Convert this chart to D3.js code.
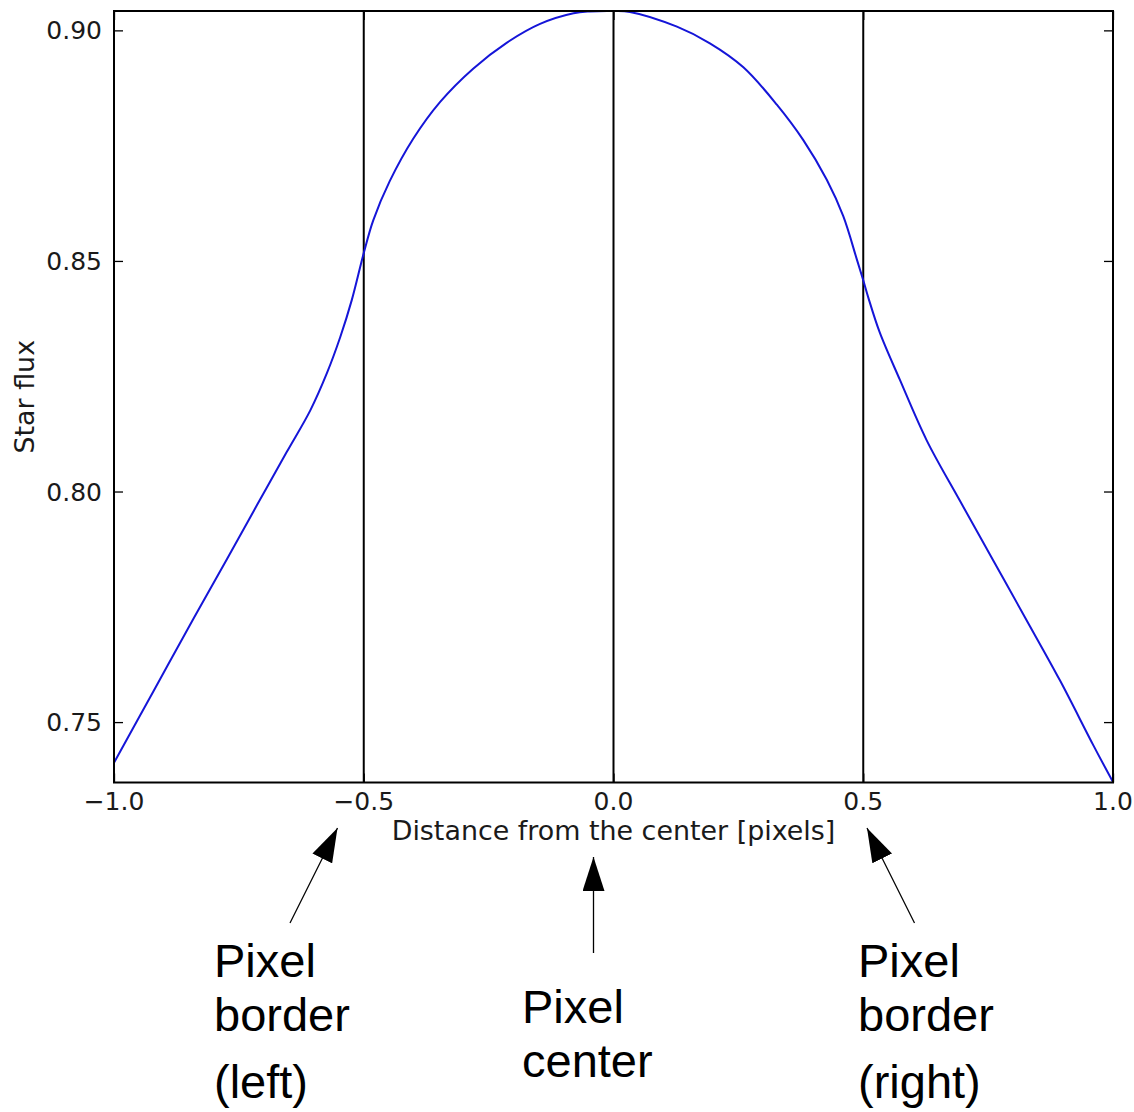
<!DOCTYPE html>
<html>
<head>
<meta charset="utf-8">
<script src="https://cdn.jsdelivr.net/npm/d3@7"></script>
<style>
  html, body { margin: 0; padding: 0; background: #fff; }
  svg { display: block; }
  .tick-label, .axis-title { font-family: "DejaVu Sans", sans-serif; fill: #1a1a1a; }
  .note { font-family: "Liberation Sans", Arial, sans-serif; fill: #000; }
</style>
</head>
<body>
<svg id="chart" width="1134" height="1112"></svg>
<script>
// Star flux as a function of the star's offset from the pixel center
const distance = [-1.0, -0.921, -0.841, -0.774, -0.714, -0.654, -0.607, -0.574, -0.547, -0.524,
  -0.500, -0.481, -0.448, -0.401, -0.347, -0.281, -0.214, -0.147, -0.080, -0.047, 0.0,
  0.033, 0.127, 0.193, 0.260, 0.327, 0.380, 0.427, 0.460, 0.487, 0.500, 0.510, 0.533,
  0.573, 0.627, 0.693, 0.760, 0.827, 0.894, 0.961, 1.0];
const flux = [0.7412, 0.7567, 0.7724, 0.7853, 0.7970, 0.8086, 0.8176, 0.8256, 0.8335, 0.8415,
  0.8517, 0.8588, 0.8673, 0.8765, 0.8845, 0.8917, 0.8973, 0.9014, 0.9037, 0.9041, 0.9042,
  0.9040, 0.9008, 0.8972, 0.8920, 0.8839, 0.8762, 0.8676, 0.8597, 0.8504, 0.8458, 0.8421, 0.8345,
  0.8243, 0.8111, 0.7981, 0.7851, 0.7721, 0.7590, 0.7449, 0.7370];

const xTicks = [-1.0, -0.5, 0.0, 0.5, 1.0];
const yTicks = [0.75, 0.80, 0.85, 0.90];
const markers = [-0.5, 0.0, 0.5];   // pixel borders and pixel center

const xTitle = "Distance from the center [pixels]";
const yTitle = "Star flux";

// Annotation texts below the axis
const notes = [
  { lines: ["Pixel", "border", "(left)"] },
  { lines: ["Pixel", "center"] },
  { lines: ["Pixel", "border", "(right)"] }
];

const svg = d3.select("#chart");
const plot = { left: 114, right: 1113, top: 11, bottom: 782.5 };

const x = d3.scaleLinear().domain([-1, 1]).range([plot.left, plot.right]);
const y = d3.scaleLinear().domain([0.7369, 0.9042]).range([plot.bottom, plot.top]);

const fmtX = v => d3.format(".1f")(v).replace("-", "\u2212");
const fmtY = d3.format(".2f");

// Ticks pointing inward on all four sides
const tickLen = 9;
const axes = svg.append("g");
axes.append("g")
  .attr("transform", `translate(${plot.left},0)`)
  .call(d3.axisRight(y).tickValues(yTicks).tickSize(tickLen).tickFormat(""));
axes.append("g")
  .attr("transform", `translate(${plot.right},0)`)
  .call(d3.axisLeft(y).tickValues(yTicks).tickSize(tickLen).tickFormat(""));
axes.append("g")
  .attr("transform", `translate(0,${plot.bottom})`)
  .call(d3.axisTop(x).tickValues(xTicks).tickSize(tickLen).tickFormat(""));
axes.append("g")
  .attr("transform", `translate(0,${plot.top})`)
  .call(d3.axisBottom(x).tickValues(xTicks).tickSize(tickLen).tickFormat(""));
axes.selectAll(".domain").remove();
axes.selectAll(".tick line").attr("stroke", "#000").attr("stroke-width", 1.3);

// Tick labels
svg.append("g").selectAll("text").data(yTicks).join("text")
  .attr("class", "tick-label")
  .attr("x", plot.left - 12)
  .attr("y", d => y(d) + 9)
  .attr("text-anchor", "end")
  .attr("font-size", 25)
  .text(fmtY);

svg.append("g").selectAll("text").data(xTicks).join("text")
  .attr("class", "tick-label")
  .attr("x", d => x(d))
  .attr("y", plot.bottom + 27.5)
  .attr("text-anchor", "middle")
  .attr("font-size", 25)
  .text(fmtX);

// Axis titles
svg.append("text")
  .attr("class", "axis-title")
  .attr("x", (plot.left + plot.right) / 2)
  .attr("y", 840)
  .attr("text-anchor", "middle")
  .attr("font-size", 26.9)
  .text(xTitle);

svg.append("text")
  .attr("class", "axis-title")
  .attr("transform", `translate(34,${(plot.top + plot.bottom) / 2}) rotate(-90)`)
  .attr("text-anchor", "middle")
  .attr("font-size", 26.9)
  .text(yTitle);

// Vertical reference lines at the pixel borders and center
svg.append("g").selectAll("line").data(markers).join("line")
  .attr("x1", d => x(d)).attr("x2", d => x(d))
  .attr("y1", plot.top).attr("y2", plot.bottom)
  .attr("stroke", "#000").attr("stroke-width", 2);

// Flux curve
const pts = distance.map((d, i) => [d, flux[i]]);
svg.append("path")
  .datum(pts)
  .attr("fill", "none")
  .attr("stroke", "#1515d8")
  .attr("stroke-width", 2)
  .attr("d", d3.line().x(d => x(d[0])).y(d => y(d[1])).curve(d3.curveCatmullRom.alpha(0.5)));

// Plot frame
svg.append("rect")
  .attr("x", plot.left).attr("y", plot.top)
  .attr("width", plot.right - plot.left).attr("height", plot.bottom - plot.top)
  .attr("fill", "none").attr("stroke", "#000").attr("stroke-width", 2);

// Arrow annotations
const defs = svg.append("defs");
defs.append("marker")
  .attr("id", "head")
  .attr("viewBox", "0 0 34 22")
  .attr("refX", 34).attr("refY", 11)
  .attr("markerWidth", 34).attr("markerHeight", 22)
  .attr("markerUnits", "userSpaceOnUse")
  .attr("orient", "auto")
  .append("path").attr("d", "M0,0 L34,11 L0,22 Z").attr("fill", "#000");

const arrows = [
  { from: [290, 923], to: [337.5, 828] },
  { from: [593.5, 953], to: [593.5, 857] },
  { from: [914.5, 923], to: [867, 828] }
];
svg.append("g").selectAll("line").data(arrows).join("line")
  .attr("x1", d => d.from[0]).attr("y1", d => d.from[1])
  .attr("x2", d => d.to[0]).attr("y2", d => d.to[1])
  .attr("stroke", "#000").attr("stroke-width", 1.3)
  .attr("marker-end", "url(#head)");

const notePos = [
  { x: 214, ys: [977, 1031, 1098] },
  { x: 522, ys: [1023, 1077] },
  { x: 858, ys: [977, 1031, 1098] }
];
notes.forEach((n, i) => {
  const t = svg.append("text").attr("class", "note").attr("font-size", 47);
  n.lines.forEach((line, j) => {
    t.append("tspan").attr("x", notePos[i].x).attr("y", notePos[i].ys[j]).text(line);
  });
});
</script>
</body>
</html>
